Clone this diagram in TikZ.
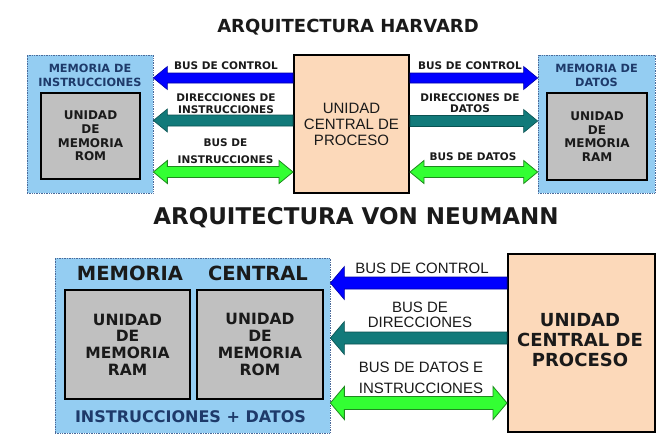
\documentclass[tikz,border=0pt]{standalone}
\usepackage{fontspec}
\setmainfont{DejaVu Sans}
\newfontfamily\arialf{Liberation Sans}
\usetikzlibrary{calc}
\definecolor{membg}{HTML}{94CDF2}
\definecolor{dotc}{HTML}{4A6A9A}
\definecolor{romgray}{HTML}{C0C0C0}
\definecolor{peach}{HTML}{FCD9BA}
\definecolor{navy}{HTML}{1E3A6A}
\definecolor{bluefill}{HTML}{0000FF}
\definecolor{blueline}{HTML}{0000A8}
\definecolor{tealfill}{HTML}{127A7A}
\definecolor{tealline}{HTML}{0A5252}
\definecolor{greenfill}{HTML}{33FF33}
\definecolor{greenline}{HTML}{1E8A1E}
\definecolor{txt}{HTML}{1A1A1A}
\newcommand{\arrowL}[5]{\filldraw[#3] (#1) -- ($(#1)+(14,-#4)$) -- ($(#1)+(14,-#5)$) -- ($(#2)+(0,-#5)$) -- ($(#2)+(0,#5)$) -- ($(#1)+(14,#5)$) -- ($(#1)+(14,#4)$) -- cycle;}
\newcommand{\arrowR}[5]{\filldraw[#3] (#1) -- ($(#1)+(-14,-#4)$) -- ($(#1)+(-14,-#5)$) -- ($(#2)+(0,-#5)$) -- ($(#2)+(0,#5)$) -- ($(#1)+(-14,#5)$) -- ($(#1)+(-14,#4)$) -- cycle;}
\newcommand{\arrowLR}[5]{\filldraw[#3] (#1) -- ($(#1)+(14,-#4)$) -- ($(#1)+(14,-#5)$) -- ($(#2)+(-14,-#5)$) -- ($(#2)+(-14,-#4)$) -- (#2) -- ($(#2)+(-14,#4)$) -- ($(#2)+(-14,#5)$) -- ($(#1)+(14,#5)$) -- ($(#1)+(14,#4)$) -- cycle;}
\begin{document}
\begin{tikzpicture}[x=1pt,y=-1pt,
  membox/.style={draw=dotc, densely dotted, fill=membg, line width=0.7pt, inner sep=0pt},
  unitbox/.style={draw=black, fill=romgray, line width=2.4pt, inner sep=0pt},
  cpubox/.style={draw=black, fill=peach, line width=2pt, inner sep=0pt},
  lbl/.style={inner sep=0pt, align=center, text=txt},
  bluearr/.style={fill=bluefill, draw=blueline, line width=0.6pt},
  tealarr/.style={fill=tealfill, draw=tealline, line width=0.6pt},
  greenarr/.style={fill=greenfill, draw=greenline, line width=0.8pt}]
\fill[white] (0,0) rectangle (669,444);
\useasboundingbox (0,0) rectangle (669,444);

% ---------- HARVARD ----------
\node[lbl, font=\bfseries\fontsize{18}{20}\selectfont] (t1) at (348,27) {ARQUITECTURA HARVARD};

\node[membox, minimum width=126pt, minimum height=138pt] (memI) at (90,124) {};
\node[unitbox, minimum width=99pt, minimum height=86pt] (romI) at (90.5,136) {};
\node[cpubox, minimum width=115pt, minimum height=138pt] (cpuT) at (351.5,124) {};
\node[membox, minimum width=117pt, minimum height=138pt] (memD) at (596.5,124) {};
\node[unitbox, minimum width=100pt, minimum height=87pt] (ramD) at (597,136.5) {};

\node[lbl, text=navy, font=\bfseries\fontsize{11.3}{13.5}\selectfont] (lmI) at (90,75.5) {MEMORIA DE\\INSTRUCCIONES};
\node[lbl, text=navy, font=\bfseries\fontsize{11.3}{13.5}\selectfont] (lmD) at (596.5,75.5) {MEMORIA DE\\DATOS};
\node[lbl, font=\bfseries\fontsize{12}{13.7}\selectfont] (lromI) at (romI) {UNIDAD\\DE\\MEMORIA\\ROM};
\node[lbl, font=\bfseries\fontsize{12}{13.7}\selectfont] (lramD) at (ramD) {UNIDAD\\DE\\MEMORIA\\RAM};
\node[lbl, font=\arialf\fontsize{15}{16}\selectfont] (lcpuT) at (cpuT) {UNIDAD\\CENTRAL DE\\PROCESO};

\coordinate (a1) at (memI.east |- 0,78);   \coordinate (a1t) at (cpuT.west |- 0,78);
\coordinate (a2) at (memI.east |- 0,120.5); \coordinate (a2t) at (cpuT.west |- 0,120.5);
\coordinate (a3) at (memI.east |- 0,172);  \coordinate (a3t) at (cpuT.west |- 0,172);
\coordinate (b1) at (memD.west |- 0,78);   \coordinate (b1t) at (cpuT.east |- 0,78);
\coordinate (b2) at (memD.west |- 0,121);  \coordinate (b2t) at (cpuT.east |- 0,121);
\coordinate (b3) at (memD.west |- 0,172);  \coordinate (b3t) at (cpuT.east |- 0,172);
\arrowL{a1}{a1t}{bluearr}{11.5}{5}
\arrowL{a2}{a2t}{tealarr}{11.5}{5.5}
\arrowLR{a3}{a3t}{greenarr}{11.5}{5.5}
\arrowR{b1}{b1t}{bluearr}{11.5}{5}
\arrowR{b2}{b2t}{tealarr}{11.5}{5.5}
\arrowLR{b3t}{b3}{greenarr}{11.5}{5.5}

\node[lbl, font=\bfseries\fontsize{10.5}{11.5}\selectfont] (l1) at (226,66) {BUS DE CONTROL};
\node[lbl, font=\bfseries\fontsize{10.5}{11.5}\selectfont] (l2) at (226,103.5) {DIRECCIONES DE\\INSTRUCCIONES};
\node[lbl, font=\bfseries\fontsize{10.5}{17}\selectfont] (l3) at (225.5,151.5) {BUS DE\\INSTRUCCIONES};
\node[lbl, font=\bfseries\fontsize{10.5}{11.5}\selectfont] (r1) at (470,66) {BUS DE CONTROL};
\node[lbl, font=\bfseries\fontsize{10.5}{11.5}\selectfont] (r2) at (470,103) {DIRECCIONES DE\\DATOS};
\node[lbl, font=\bfseries\fontsize{10.5}{11.5}\selectfont] (r3) at (473,157) {BUS DE DATOS};

% ---------- VON NEUMANN ----------
\node[lbl, font=\bfseries\fontsize{23}{25}\selectfont] (t2) at (356,218) {ARQUITECTURA VON NEUMANN};

\node[membox, minimum width=275pt, minimum height=175pt] (memC) at (192.5,345.5) {};
\node[unitbox, minimum width=125pt, minimum height=109pt] (ramC) at (127.5,344.5) {};
\node[unitbox, minimum width=126pt, minimum height=109pt] (romC) at (260,344.5) {};
\node[cpubox, minimum width=147pt, minimum height=178pt] (cpuB) at (581.5,343) {};

\node[lbl, font=\bfseries\fontsize{19.5}{21}\selectfont] (lmem) at (130,273) {MEMORIA};
\node[lbl, font=\bfseries\fontsize{19.5}{21}\selectfont] (lcen) at (258,273) {CENTRAL};
\node[lbl, font=\bfseries\fontsize{15.5}{16.7}\selectfont] (lramC) at (ramC) {UNIDAD\\DE\\MEMORIA\\RAM};
\node[lbl, font=\bfseries\fontsize{15.5}{16.7}\selectfont] (lromC) at (romC) {UNIDAD\\DE\\MEMORIA\\ROM};
\node[lbl, text=navy, font=\bfseries\fontsize{16}{18}\selectfont] (lid) at (190.5,417) {INSTRUCCIONES + DATOS};
\node[lbl, font=\bfseries\fontsize{18}{20}\selectfont] (lcpuB) at (580,340) {UNIDAD\\CENTRAL DE\\PROCESO};

\coordinate (c1) at (memC.east |- 0,283); \coordinate (c1t) at (cpuB.west |- 0,283);
\coordinate (c2) at (memC.east |- 0,338); \coordinate (c2t) at (cpuB.west |- 0,338);
\coordinate (c3) at (memC.east |- 0,403); \coordinate (c3t) at (cpuB.west |- 0,403);
\arrowL{c1}{c1t}{bluearr}{16.5}{6}
\arrowL{c2}{c2t}{tealarr}{16.5}{6}
\arrowLR{c3}{c3t}{greenarr}{16.5}{6.5}

\node[lbl, font=\arialf\fontsize{15}{16}\selectfont] (m1) at (422,268) {BUS DE CONTROL};
\node[lbl, font=\arialf\fontsize{15}{14.5}\selectfont] (m2) at (420,315) {BUS DE\\DIRECCIONES};
\node[lbl, font=\arialf\fontsize{15}{21}\selectfont] (m3) at (421,377.5) {BUS DE DATOS E\\INSTRUCCIONES};
\end{tikzpicture}
\end{document}
